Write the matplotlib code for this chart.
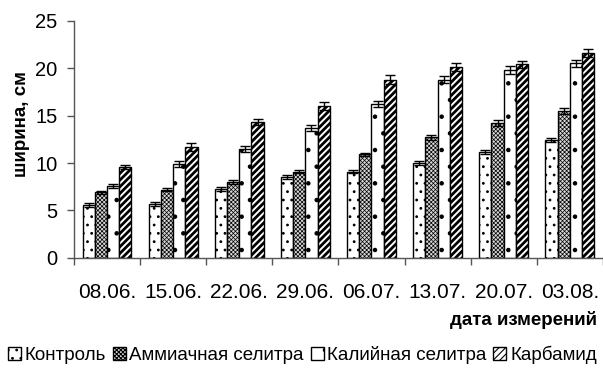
import numpy as np
import matplotlib
matplotlib.use("Agg")
import matplotlib.pyplot as plt

plt.rcParams['font.family'] = ['Liberation Sans', 'DejaVu Sans']
plt.rcParams['hatch.linewidth'] = 0.8

dates = ["08.06.", "15.06.", "22.06.", "29.06.", "06.07.", "13.07.", "20.07.", "03.08."]
series_names = ["Контроль", "Аммиачная селитра", "Калийная селитра", "Карбамид"]

control = [5.6, 5.7, 7.3, 8.5, 9.1, 10.0, 11.2, 12.4]
ammonium = [6.9, 7.2, 8.0, 9.1, 10.9, 12.7, 14.2, 15.5]
potassium = [7.6, 9.9, 11.5, 13.7, 16.2, 18.8, 19.8, 20.5]
carbamide = [9.6, 11.7, 14.3, 16.0, 18.8, 20.1, 20.4, 21.6]

control_err = [0.2, 0.2, 0.2, 0.2, 0.2, 0.2, 0.2, 0.2]
ammonium_err = [0.2, 0.2, 0.2, 0.2, 0.2, 0.3, 0.3, 0.3]
potassium_err = [0.2, 0.3, 0.3, 0.3, 0.3, 0.4, 0.4, 0.4]
carbamide_err = [0.2, 0.4, 0.3, 0.4, 0.5, 0.4, 0.4, 0.4]

values = [control, ammonium, potassium, carbamide]
errors = [control_err, ammonium_err, potassium_err, carbamide_err]
hatches = ["..", "xxxxxxxx", ".", "/////"]
faces = ["white", "#d8d8d8", "white", "white"]
hatch_lw = [0.8, 0.5, 0.8, 2.0]

fig = plt.figure(figsize=(6.03, 3.69), dpi=100)
ax = fig.add_axes([0.1227, 0.301, 0.877, 0.643])

x = np.arange(len(dates))
width = 0.185
handles = []
for k, (vals, errs, h, name) in enumerate(zip(values, errors, hatches, series_names)):
    bars = ax.bar(x + (k - 1.5) * width, vals, width, facecolor=faces[k], edgecolor="black",
                  linewidth=1.0, hatch=h, label=name,
                  yerr=errs, capsize=3.5, error_kw=dict(ecolor="black", elinewidth=1.0, capthick=1.0))
    for p in bars.patches:
        if hasattr(p, "set_hatch_linewidth"):
            p.set_hatch_linewidth(hatch_lw[k])
    handles.append(bars)

ax.set_xlim(-0.5, 7.5)
ax.set_ylim(0, 25)
ax.set_yticks([0, 5, 10, 15, 20, 25])
ax.set_xticks(x)
ax.set_xticklabels(dates)
ax.set_xticks(np.arange(-0.5, 8, 1), minor=True)

ax.tick_params(axis="x", which="major", length=0, pad=18, labelsize=15)
ax.tick_params(axis="x", which="minor", length=5, width=1, color="#555555")
ax.tick_params(axis="y", length=5, width=1, color="#555555", labelsize=14.5, pad=7)

for s in ["top", "right"]:
    ax.spines[s].set_visible(False)
for s in ["left", "bottom"]:
    ax.spines[s].set_color("#555555")
    ax.spines[s].set_linewidth(1.0)

# axis titles
fig.text(0.035, 0.663, "ширина, см", fontsize=13.5, fontweight="bold", rotation=90,
         ha="center", va="center")
fig.text(0.99, 0.132, "дата измерений", fontsize=13.5, fontweight="bold", ha="right", va="center")

fig.legend(handles=handles, labels=series_names, loc="lower left", bbox_to_anchor=(-0.012, -0.028),
           ncol=4, frameon=False, fontsize=13.5, handlelength=0.7, handleheight=0.7,
           handletextpad=0.2, columnspacing=0.35, borderpad=0.3)

fig.savefig("out.png", dpi=100)
